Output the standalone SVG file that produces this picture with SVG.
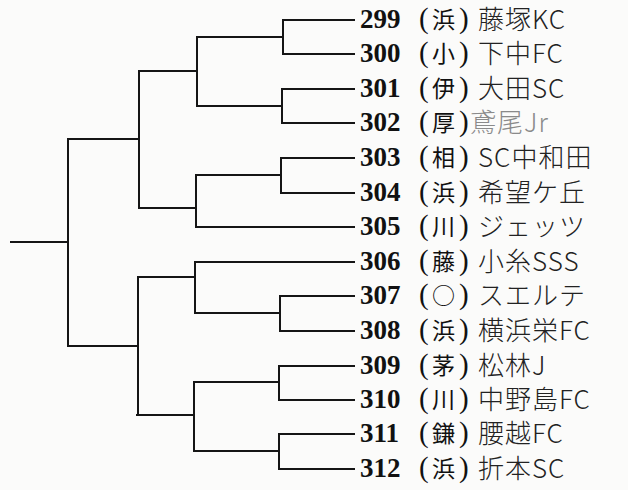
<svg xmlns="http://www.w3.org/2000/svg" width="628" height="490" viewBox="0 0 628 490">
<style>
.bg{fill:#fbfbfa}
.ln{fill:none;stroke:#151515;stroke-width:2;stroke-linecap:square}
.num{font-family:"Liberation Serif",serif;font-weight:bold;font-size:27px;fill:#111}
.par{font-family:"Liberation Serif",serif;font-size:29px;fill:#111}
.kj{font-family:"Noto Sans CJK JP",sans-serif;font-size:23px;fill:#111}
.hw{font-family:"Noto Sans CJK JP",sans-serif;font-size:26px;letter-spacing:1px;fill:#222;font-weight:300}
.faint{fill:#8a8a8a}
</style>
<rect class="bg" x="0" y="0" width="628" height="490"/>
<g id="connectors" class="ln">
<path d="M354,20 H283 V54 H354 M283,37 H197"/>
<path d="M354,89 H282 V123 H354 M282,106 H197"/>
<path d="M197,37 V106 M197,71 H139"/>
<path d="M354,158 H281 V193 H354 M281,175 H196"/>
<path d="M354,227 H196 V175 M196,208 H139"/>
<path d="M139,71 V208 M139,139 H68"/>
<path d="M354,262 H195 V313"/>
<path d="M354,296 H280 V331 H354 M280,313 H195"/>
<path d="M195,277 H138"/>
<path d="M354,366 H279 V400 H354 M279,382 H194"/>
<path d="M354,434 H279 V469 H354 M279,451 H194"/>
<path d="M194,382 V451 M194,415 H137"/>
<path d="M138,277 V415 M137,346 H68"/>
<path d="M68,139 V346 M68,242 H11"/>
</g>
<g id="t299"><text class="num" x="360" y="28">299</text><text class="par" y="28"><tspan x="419">(</tspan><tspan class="kj" x="432">浜</tspan><tspan x="459">)</tspan></text><text class="hw" x="478" y="29">藤塚KC</text></g>
<g id="t300"><text class="num" x="360" y="62">300</text><text class="par" y="62"><tspan x="419">(</tspan><tspan class="kj" x="432">小</tspan><tspan x="459">)</tspan></text><text class="hw" x="478" y="63">下中FC</text></g>
<g id="t301"><text class="num" x="360" y="97">301</text><text class="par" y="97"><tspan x="419">(</tspan><tspan class="kj" x="432">伊</tspan><tspan x="459">)</tspan></text><text class="hw" x="478" y="98">大田SC</text></g>
<g id="t302"><text class="num" x="360" y="131">302</text><text class="par" y="131"><tspan x="419">(</tspan><tspan class="kj" x="432">厚</tspan><tspan x="459">)</tspan></text><text class="hw faint" x="470" y="132">鳶尾Jr</text></g>
<g id="t303"><text class="num" x="360" y="166">303</text><text class="par" y="166"><tspan x="419">(</tspan><tspan class="kj" x="432">相</tspan><tspan x="459">)</tspan></text><text class="hw" x="478" y="167">SC中和田</text></g>
<g id="t304"><text class="num" x="360" y="201">304</text><text class="par" y="201"><tspan x="419">(</tspan><tspan class="kj" x="432">浜</tspan><tspan x="459">)</tspan></text><text class="hw" x="478" y="202">希望ケ丘</text></g>
<g id="t305"><text class="num" x="360" y="235">305</text><text class="par" y="235"><tspan x="419">(</tspan><tspan class="kj" x="432">川</tspan><tspan x="459">)</tspan></text><text class="hw" x="478" y="236">ジェッツ</text></g>
<g id="t306"><text class="num" x="360" y="270">306</text><text class="par" y="270"><tspan x="419">(</tspan><tspan class="kj" x="432">藤</tspan><tspan x="459">)</tspan></text><text class="hw" x="478" y="271">小糸SSS</text></g>
<g id="t307"><text class="num" x="360" y="304">307</text><text class="par" y="304"><tspan x="419">(</tspan><tspan class="kj" x="432">○</tspan><tspan x="459">)</tspan></text><text class="hw" x="478" y="305">スエルテ</text></g>
<g id="t308"><text class="num" x="360" y="339">308</text><text class="par" y="339"><tspan x="419">(</tspan><tspan class="kj" x="432">浜</tspan><tspan x="459">)</tspan></text><text class="hw" x="478" y="340">横浜栄FC</text></g>
<g id="t309"><text class="num" x="360" y="374">309</text><text class="par" y="374"><tspan x="419">(</tspan><tspan class="kj" x="432">茅</tspan><tspan x="459">)</tspan></text><text class="hw" x="478" y="375">松林J</text></g>
<g id="t310"><text class="num" x="360" y="408">310</text><text class="par" y="408"><tspan x="419">(</tspan><tspan class="kj" x="432">川</tspan><tspan x="459">)</tspan></text><text class="hw" x="478" y="409">中野島FC</text></g>
<g id="t311"><text class="num" x="360" y="442">311</text><text class="par" y="442"><tspan x="419">(</tspan><tspan class="kj" x="432">鎌</tspan><tspan x="459">)</tspan></text><text class="hw" x="478" y="443">腰越FC</text></g>
<g id="t312"><text class="num" x="360" y="477">312</text><text class="par" y="477"><tspan x="419">(</tspan><tspan class="kj" x="432">浜</tspan><tspan x="459">)</tspan></text><text class="hw" x="478" y="478">折本SC</text></g>
</svg>
